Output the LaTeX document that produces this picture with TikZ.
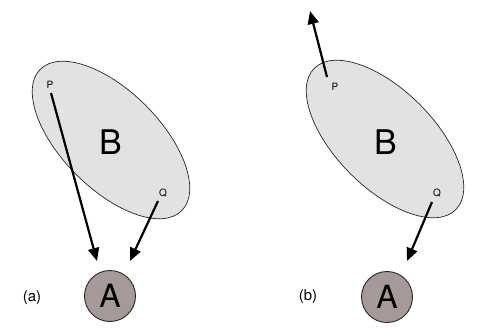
\documentclass[tikz,border=0pt]{standalone}
\usepackage{fontspec}
\setmainfont{TeX Gyre Heros}
\usetikzlibrary{arrows.meta}
\definecolor{BlobGray}{HTML}{E1E2E4}
\definecolor{BallBrown}{HTML}{A69A98}

\begin{document}
\begin{tikzpicture}[x=1pt,y=-1pt,
  every node/.style={font=\fontsize{15}{17}\selectfont},
  blob/.style={draw=black!85,fill=BlobGray,line width=0.7pt},
  ball/.style={circle,draw=black!85,fill=BallBrown,line width=0.9pt,
               minimum size=51pt,inner sep=0pt,font=\fontsize{32}{32}\selectfont},
  big/.style={font=\fontsize{34}{34}\selectfont},
  pnt/.style={font=\fontsize{10}{10}\selectfont,inner sep=1pt},
  push/.style={-{Triangle[length=13pt,width=11pt]},line width=2.2pt}
]
  \useasboundingbox (0,0) rectangle (498,327);

  % (a) both points pulled towards A
  \draw[blob,rotate around={-45:(111,140)}] (111,140) ellipse [x radius=100pt,y radius=49pt];
  \node[big] (bodyA) at (111,142) {B};
  \node[pnt] (pA) at (50,85) {P};
  \node[pnt] (qA) at (163,193) {Q};
  \coordinate (pAs) at (51,93);
  \coordinate (qAs) at (158,201);
  \node[ball] (ballA) at (110,296) {A};
  \coordinate (pAe) at (97,261);
  \coordinate (qAe) at (130,261);
  \draw[push] (pAs) -- (pAe);
  \draw[push] (qAs) -- (qAe);
  \node (capA) at (32,298) {(a)};

  % (b) net effect: the body is stretched
  \draw[blob,rotate around={-45:(385,139)}] (385,139) ellipse [x radius=100pt,y radius=49pt];
  \node[big] (bodyB) at (386,142) {B};
  \node[pnt] (pB) at (335,87) {P};
  \node[pnt] (qB) at (437,193) {Q};
  \coordinate (pBs) at (327,77);
  \coordinate (qBs) at (432,202);
  \node[ball] (ballB) at (387,297) {A};
  \coordinate (pBe) at (310,11);
  \coordinate (qBe) at (407,261);
  \draw[push] (pBs) -- (pBe);
  \draw[push] (qBs) -- (qBe);
  \node (capB) at (308,297) {(b)};
\end{tikzpicture}
\end{document}
